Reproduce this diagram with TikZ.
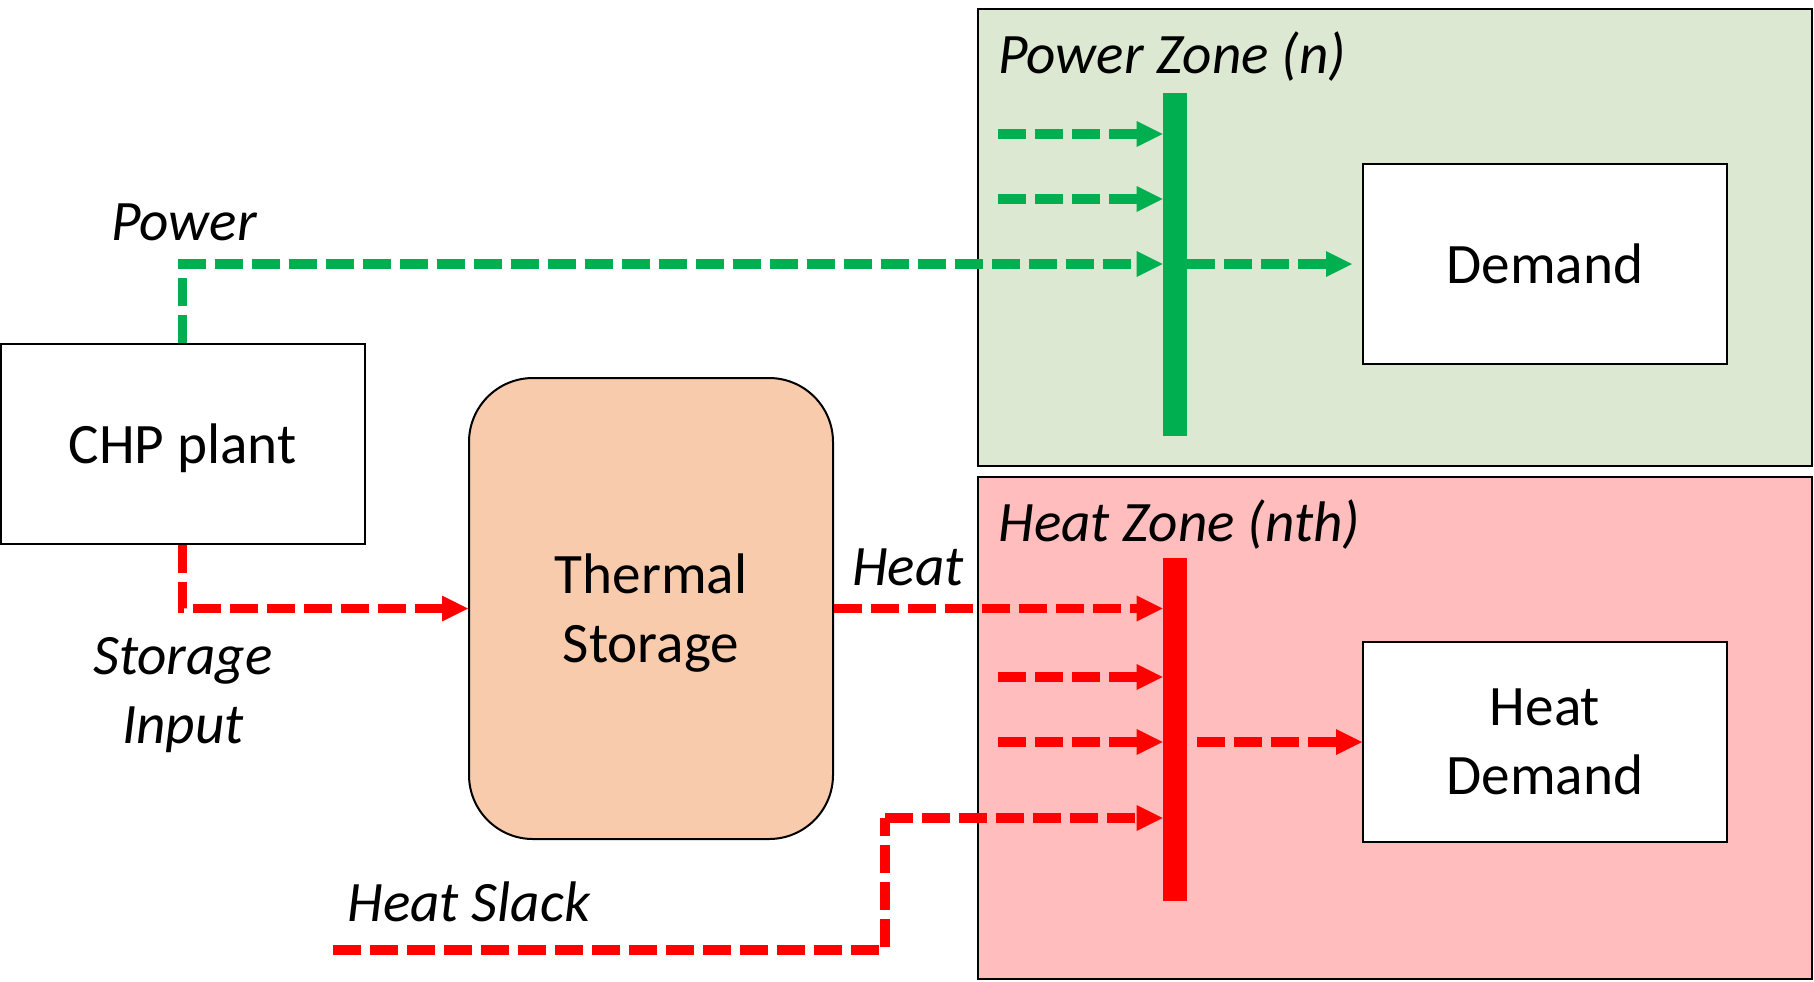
\documentclass[tikz,border=0pt]{standalone}
\usepackage{fontspec}
\setmainfont{Carlito}
\usepackage{tikz}
\usetikzlibrary{arrows.meta}
\definecolor{pgreen}{HTML}{00B050}
\definecolor{zgreen}{HTML}{DCE8D1}
\definecolor{hred}{HTML}{FF0000}
\definecolor{zred}{HTML}{FFBDBD}
\definecolor{tsfill}{HTML}{F8CBAD}

\begin{document}
\begin{tikzpicture}[x=0.5pt, y=-0.5pt,
            box/.style = {draw, line width=1pt, fill=white, minimum width=182pt, minimum height=100pt,
                text depth=0pt, align=center, font=\fontsize{28.6}{34.5}\selectfont},
            lbl/.style = {inner sep=0pt, align=center, font=\fontsize{28.6}{34.5}\selectfont\itshape},
            bus/.style = {inner sep=0pt, minimum width=12pt, minimum height=171.5pt},
            flow/.style = {line width=4.7pt, dash pattern=on 14pt off 4.5pt,
                -{Triangle[length=13pt, width=13pt, line width=0pt]}},
            pflow/.style = {flow, pgreen},
            hflow/.style = {flow, hred},
            hline/.style = {hred, line width=4.7pt, dash pattern=on 14pt off 4.5pt}]
            \useasboundingbox (0, 0) rectangle (1814, 981);
            \draw [line width = 1pt, fill = zgreen] (978, 9) rectangle (1812, 466);
            \draw [line width = 1pt, fill = zred] (978, 477) rectangle (1812, 979);
            \node [lbl, anchor = west] at (998, 57) {Power Zone (n)};
            \node [lbl, anchor = west] at (998, 525) {Heat Zone (nth)};
            \node [box] (chp) at (182.5, 444) {CHP plant};
            \node [box, fill = tsfill, rounded corners = 32pt, minimum height = 230.5pt] (ts) at (651, 608.5) {Thermal\\Storage};
            \node [box] (dem) at (1545, 264) {Demand};
            \node [box] (hdem) at (1545, 742) {Heat\\Demand};
            \node [bus, fill = pgreen] (busP) at (1175, 264) {};
            \node [bus, fill = hred] (busH) at (1175, 729) {};
            \node [lbl] at (184, 222) {Power};
            \node [lbl] at (183, 695) {Storage\\Input};
            \node [lbl] at (908, 567) {Heat};
            \node [lbl, anchor = west] at (347, 902) {Heat Slack};
            \coordinate (p1) at (998, 134);
            \coordinate (p2) at (998, 199);
            \coordinate (h1) at (998, 677);
            \coordinate (h2) at (998, 742);
            \coordinate (slack) at (333, 950);
            \coordinate (sk) at (885, 818);
            \draw [pflow] (chp.north) |- (busP.west);
            \draw [pflow] (p1) -- (p1 -| busP.west);
            \draw [pflow] (p2) -- (p2 -| busP.west);
            \draw [pflow, shorten >= 5pt] (busP.east) -- (dem.west);
            \draw [hflow] (chp.south) |- (ts.west);
            \draw [hflow] (ts.east) -- (ts.east -| busH.west);
            \draw [hflow] (h1) -- (h1 -| busH.west);
            \draw [hflow] (h2) -- (h2 -| busH.west);
            \draw [hline] (slack) -| (sk);
            \draw [hflow] (sk) -- (sk -| busH.west);
            \draw [hflow, shorten <= 5pt] (busH.east |- hdem.west) -- (hdem.west);
        \end{tikzpicture}
\end{document}
